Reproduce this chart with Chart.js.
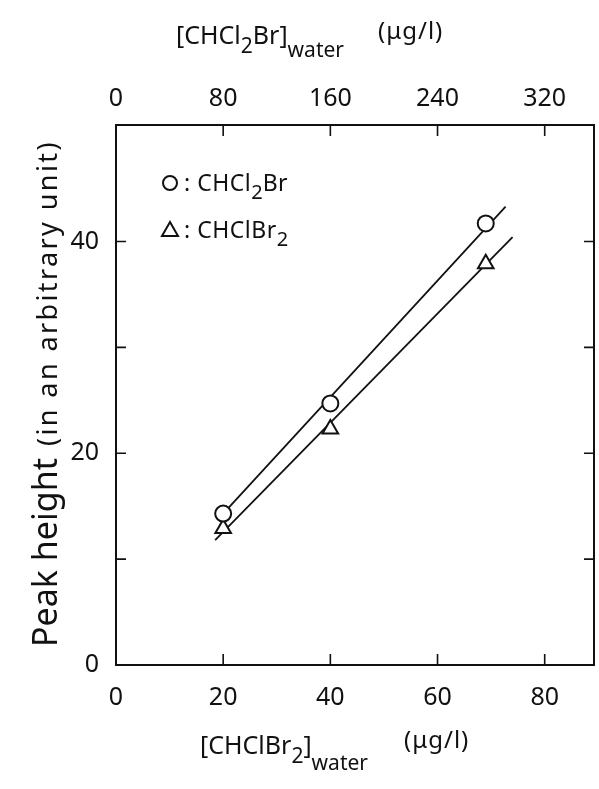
<!DOCTYPE html>
<html>
<head>
<meta charset="utf-8">
<script src="https://cdn.jsdelivr.net/npm/chart.js@4.4.1/dist/chart.umd.min.js"></script>
<style>
  html, body { margin: 0; padding: 0; background: #fff; }
  #wrap { width: 599px; height: 789px; }
</style>
</head>
<body>
<div id="wrap"><canvas id="chart"></canvas></div>
<script>
// values
const bottomTicks = [0, 20, 40, 60, 80];
const topTicks = [0, 80, 160, 240, 320];
const yTicks = [0, 10, 20, 30, 40];
const yLabels = [0, 20, 40];

const circleX = [20, 40, 69];
const circleY = [14.3, 24.7, 41.7];
const triX = [20, 40, 69];
const triY = [12.9, 22.3, 37.9];

const circleFitX = [20, 72.7];
const circleFitY = [14.3, 43.3];
const triFitX = [18.5, 74];
const triFitY = [11.8, 40.4];

const X_MAX = 89.2;
const Y_MAX = 51;
const FONT = "'Noto Sans', 'DejaVu Sans', sans-serif";
const INK = '#111';

const pts = (xs, ys) => xs.map((x, i) => ({ x, y: ys[i] }));

function richText(ctx, parts, x, y) {
    let cx = x;
    parts.forEach(p => {
        ctx.font = p.size + 'px ' + FONT;
        ctx.letterSpacing = (p.ls || 0) + 'px';
        ctx.fillText(p.t, cx, y + (p.dy || 0));
        cx += ctx.measureText(p.t).width + (p.gap || 0);
    });
    ctx.letterSpacing = '0px';
}

const decor = {
    id: 'decor',
    afterDraw(chart) {
        const { ctx, chartArea: a, scales } = chart;
        ctx.save();
        ctx.strokeStyle = INK;
        ctx.fillStyle = INK;
        ctx.lineWidth = 2;
        ctx.strokeRect(a.left, a.top, a.right - a.left, a.bottom - a.top);

        // inward tick marks
        ctx.lineWidth = 1.6;
        ctx.beginPath();
        bottomTicks.slice(1).forEach(v => {
            const px = scales.x.getPixelForValue(v);
            ctx.moveTo(px, a.bottom); ctx.lineTo(px, a.bottom - 11);
        });
        topTicks.slice(1).forEach(v => {
            const px = scales.x2.getPixelForValue(v);
            ctx.moveTo(px, a.top); ctx.lineTo(px, a.top + 11);
        });
        yTicks.slice(1).forEach(v => {
            const py = scales.y.getPixelForValue(v);
            ctx.moveTo(a.left, py); ctx.lineTo(a.left + 10, py);
            ctx.moveTo(a.right, py); ctx.lineTo(a.right - 10, py);
        });
        ctx.stroke();

        ctx.textBaseline = 'alphabetic';
        ctx.textAlign = 'left';

        // top axis title
        richText(ctx, [
            { t: '[CHCl', size: 25 },
            { t: '2', size: 21, dy: 9 },
            { t: 'Br]', size: 25 },
            { t: 'water', size: 21, dy: 13, gap: 34 },
            { t: '(μg/l)', size: 24, dy: -5, ls: 1 },
        ], 176, 44);

        // bottom axis title
        richText(ctx, [
            { t: '[CHClBr', size: 25 },
            { t: '2', size: 21, dy: 9 },
            { t: ']', size: 25 },
            { t: 'water', size: 21, dy: 16, gap: 36 },
            { t: '(μg/l)', size: 24, dy: -6, ls: 1 },
        ], 200, 754);

        // y axis title
        ctx.save();
        ctx.translate(57, 647);
        ctx.rotate(-Math.PI / 2);
        richText(ctx, [
            { t: 'Peak height', size: 34, gap: 12 },
            { t: '(in an arbitrary unit)', size: 27, ls: 2.4 },
        ], 0, 0);
        ctx.restore();

        // legend
        ctx.lineWidth = 2;
        ctx.beginPath();
        ctx.arc(170, 183, 7, 0, Math.PI * 2);
        ctx.stroke();
        richText(ctx, [
            { t: ': CHCl', size: 23, ls: 0.5 },
            { t: '2', size: 20, dy: 8 },
            { t: 'Br', size: 23, ls: 0.5 },
        ], 184, 191);
        ctx.beginPath();
        ctx.moveTo(170, 222); ctx.lineTo(178, 236); ctx.lineTo(162, 236); ctx.closePath();
        ctx.stroke();
        richText(ctx, [
            { t: ': CHClBr', size: 23, ls: 0.5 },
            { t: '2', size: 20, dy: 8 },
        ], 184, 238);
        ctx.restore();
    }
};

const lineStyle = {
    type: 'line',
    showLine: true,
    borderColor: INK,
    borderWidth: 1.8,
    pointRadius: 0,
    fill: false,
    order: 2,
};

new Chart(document.getElementById('chart'), {
    type: 'scatter',
    data: {
        datasets: [
            { ...lineStyle, label: 'fit CHCl2Br', data: pts(circleFitX, circleFitY) },
            { ...lineStyle, label: 'fit CHClBr2', data: pts(triFitX, triFitY) },
            {
                label: 'CHCl2Br',
                data: pts(circleX, circleY),
                pointStyle: 'circle',
                pointRadius: 8,
                borderWidth: 2,
                borderColor: INK,
                backgroundColor: '#fff',
                order: 1,
            },
            {
                label: 'CHClBr2',
                data: pts(triX, triY),
                pointStyle: 'triangle',
                pointRadius: 9,
                borderWidth: 2,
                borderColor: INK,
                backgroundColor: '#fff',
                order: 1,
            },
        ],
    },
    options: {
        responsive: true,
        maintainAspectRatio: false,
        animation: false,
        events: [],
        layout: { autoPadding: false, padding: { left: 0, right: 5, top: 0, bottom: 0 } },
        plugins: { legend: { display: false }, tooltip: { enabled: false } },
        scales: {
            x: {
                type: 'linear',
                position: 'bottom',
                min: 0, max: X_MAX,
                afterBuildTicks: s => { s.ticks = bottomTicks.map(v => ({ value: v })); },
                afterFit: s => { s.height = 789 - 665; s.paddingRight = 0; s.paddingLeft = 0; },
                grid: { display: false, drawTicks: false },
                border: { display: false },
                ticks: { color: INK, font: { family: FONT, size: 25 }, padding: 18, maxRotation: 0 },
            },
            x2: {
                type: 'linear',
                position: 'top',
                min: 0, max: X_MAX * 4,
                afterBuildTicks: s => { s.ticks = topTicks.map(v => ({ value: v })); },
                afterFit: s => { s.height = 125; s.paddingRight = 0; s.paddingLeft = 0; },
                grid: { display: false, drawTicks: false },
                border: { display: false },
                ticks: { color: INK, font: { family: FONT, size: 25 }, padding: 11, maxRotation: 0 },
            },
            y: {
                type: 'linear',
                position: 'left',
                min: 0, max: Y_MAX,
                afterBuildTicks: s => { s.ticks = yTicks.map(v => ({ value: v })); },
                afterFit: s => { s.width = 116; },
                grid: { display: false, drawTicks: false },
                border: { display: false },
                ticks: {
                    color: INK,
                    font: { family: FONT, size: 25 },
                    padding: 17,
                    callback: v => yLabels.includes(v) ? String(v) : '',
                },
            },
        },
    },
    plugins: [decor],
});
</script>
</body>
</html>
